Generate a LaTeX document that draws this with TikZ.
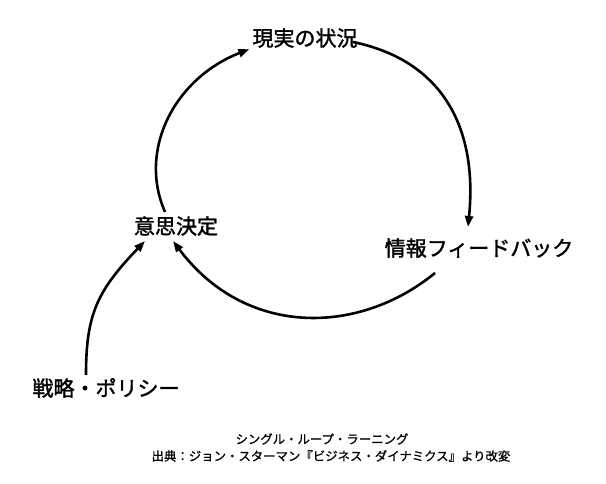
\documentclass[tikz,border=0pt]{standalone}
\usepackage{fontspec}
\newfontfamily\jpb{Noto Sans CJK JP}[FakeBold=1.6]
\newfontfamily\jpr{Noto Sans CJK JP}[FakeBold=0.8]
\usetikzlibrary{arrows.meta,calc}
\begin{document}
\begin{tikzpicture}[x=1pt,y=1pt,
  lbl/.style={font={\jpb\fontsize{21}{21}\selectfont}, inner sep=0pt},
  captxt/.style={font={\jpr\fontsize{12.4}{12.4}\selectfont}, inner sep=0pt},
  conn/.style={line width=2.6pt, -{Triangle[length=11pt,width=8pt]}}]
\useasboundingbox[fill=white] (0,0) rectangle (606,484);
\node[lbl] (real) at (305,446) {現実の状況};
\node[lbl] (dec)  at (176,258) {意思決定};
\node[lbl] (info) at (479,236) {情報フィードバック};
\node[lbl] (pol)  at (106,96)  {戦略・ポリシー};
\node[captxt] (cap1) at (322,45) {シングル・ループ・ラーニング};
\node[captxt] (cap2) at (331,28) {出典：ジョン・スターマン『ビジネス・ダイナミクス』より改変};
% decision -> reality
\draw[conn] ($(dec.center)+(-11,14)$) .. controls +(-27.7,63.4) and +(-73.5,-28.5) .. ($(real.center)+(-55.6,-11.2)$);
% reality -> information feedback
\draw[conn] ($(real.center)+(48,-4)$) .. controls +(93,-19.3) and +(9.5,95) .. ($(info.center)+(-11,21)$);
% information feedback -> decision
\draw[conn] ($(info.center)+(-44,-25)$) .. controls +(-77,-63) and +(72,-96) .. ($(dec.center)+(-3,-15)$);
% policy -> decision
\draw[conn] ($(pol.center)+(-20,13)$) .. controls +(0,60) and +(-48.3,-50.4) .. ($(dec.center)+(-31,-15)$);
\end{tikzpicture}
\end{document}
